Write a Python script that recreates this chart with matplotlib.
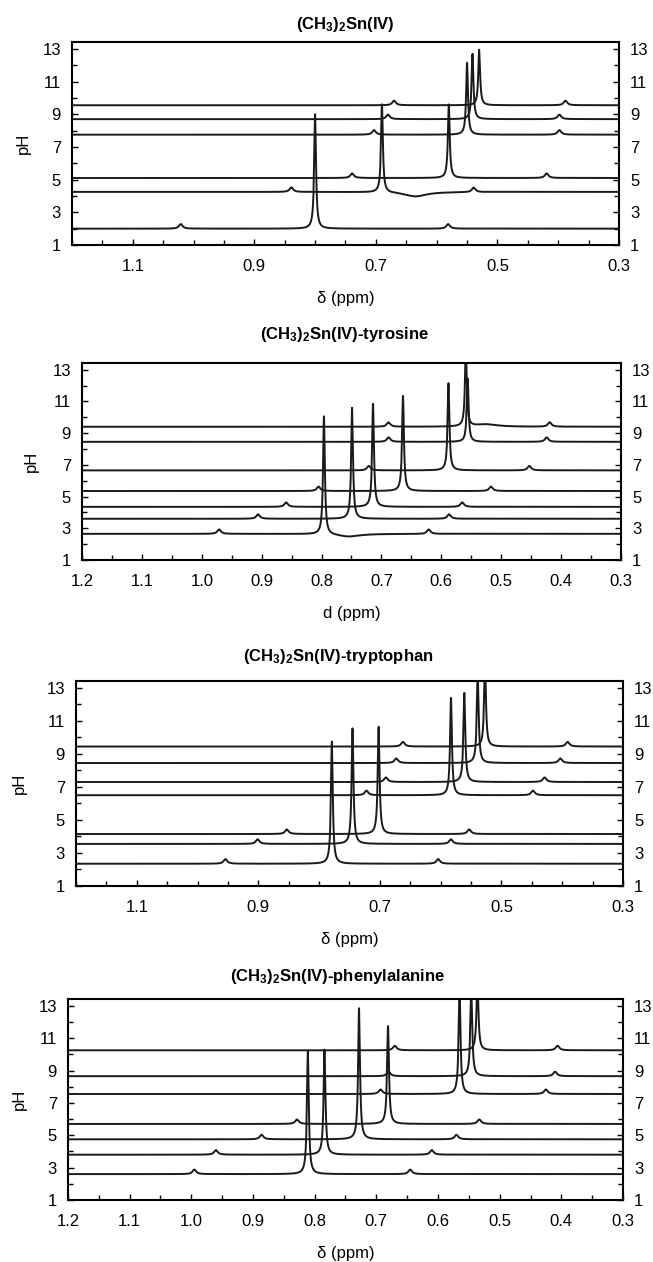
import numpy as np
import matplotlib
matplotlib.use("Agg")
import matplotlib.pyplot as plt
from matplotlib.ticker import FixedLocator, MultipleLocator, FormatStrFormatter

plt.rcParams["font.family"] = ["Liberation Sans", "DejaVu Sans"]
plt.rcParams["mathtext.default"] = "regular"

# --- panel 1: (CH3)2Sn(IV) ---
p1_ph = [2.0, 4.25, 5.1, 7.75, 8.7, 9.55]
p1_main = [0.800, 0.690, 0.580, 0.550, 0.541, 0.530]
p1_height = [7.0, 5.4, 4.5, 4.4, 4.0, 3.4]
p1_sat_left = [1.021, 0.839, 0.739, 0.703, 0.680, 0.670]
p1_sat_right = [0.581, 0.539, 0.419, 0.398, 0.398, 0.388]
# extra baseline features: (trace index, position, height)
p1_extra = [(1, 0.635, -0.28)]

# --- panel 2: tyrosine ---
p2_ph = [2.65, 3.6, 4.35, 5.35, 6.65, 8.45, 9.4]
p2_main = [0.796, 0.749, 0.714, 0.664, 0.588, 0.556, 0.559]
p2_height = [7.45, 7.0, 6.5, 6.0, 5.5, 4.0, 5.0]
p2_sat_left = [0.971, 0.906, 0.859, 0.805, 0.721, 0.688, 0.688]
p2_sat_right = [0.621, 0.587, 0.565, 0.517, 0.453, 0.424, 0.419]
p2_extra = [(0, 0.755, -0.18), (6, 0.525, 0.15)]

# --- panel 3: tryptophan ---
p3_ph = [2.35, 3.55, 4.15, 6.5, 7.3, 8.45, 9.45]
p3_main = [0.779, 0.745, 0.702, 0.583, 0.561, 0.539, 0.527]
p3_height = [7.4, 7.0, 6.5, 5.9, 5.4, 5.5, 5.0]
p3_sat_left = [0.954, 0.901, 0.853, 0.722, 0.690, 0.673, 0.662]
p3_sat_right = [0.604, 0.583, 0.553, 0.448, 0.429, 0.403, 0.391]
p3_extra = []

# --- panel 4: phenylalanine ---
p4_ph = [2.6, 3.8, 4.75, 5.7, 7.55, 8.65, 10.25]
p4_main = [0.811, 0.784, 0.728, 0.681, 0.565, 0.546, 0.536]
p4_height = [7.6, 6.5, 8.1, 6.05, 6.5, 5.5, 4.5]
p4_sat_left = [0.995, 0.960, 0.886, 0.8285, 0.693, 0.680, 0.670]
p4_sat_right = [0.645, 0.610, 0.570, 0.533, 0.425, 0.410, 0.406]
p4_extra = []

sat_height = 0.28

titles = ["(CH$_3$)$_2$Sn(IV)", "(CH$_3$)$_2$Sn(IV)-tyrosine",
          "(CH$_3$)$_2$Sn(IV)-tryptophan", "(CH$_3$)$_2$Sn(IV)-phenylalanine"]
xlabels = ["δ (ppm)", "d (ppm)", "δ (ppm)", "δ (ppm)"]
xticks_sparse = [1.1, 0.9, 0.7, 0.5, 0.3]
xticks_dense = [1.2, 1.1, 1.0, 0.9, 0.8, 0.7, 0.6, 0.5, 0.4, 0.3]
yticks = [1, 3, 5, 7, 9, 11, 13]

panels = [
    (p1_ph, p1_main, p1_height, p1_sat_left, p1_sat_right, p1_extra),
    (p2_ph, p2_main, p2_height, p2_sat_left, p2_sat_right, p2_extra),
    (p3_ph, p3_main, p3_height, p3_sat_left, p3_sat_right, p3_extra),
    (p4_ph, p4_main, p4_height, p4_sat_left, p4_sat_right, p4_extra),
]
panel_xticks = [xticks_sparse, xticks_dense, xticks_sparse, xticks_dense]

# layout in pixels: left, right, top, bottom ; title x, title y ; ylabel x
W, H = 653, 1262
boxes = [(72, 619, 42, 245), (82, 621, 363, 560), (76, 623, 681, 886), (68, 623, 999, 1200)]
title_pos = [(345, 24), (344, 334), (338, 656), (338, 976)]
ylab_x = [23, 31, 19, 19]


def lorentz(x, x0, h, w):
    return h * w ** 2 / ((x - x0) ** 2 + w ** 2)


fig = plt.figure(figsize=(W / 100, H / 100), dpi=100)
x = np.linspace(0.3, 1.2, 30001)

for i, (ph, main, height, sl, sr, extra) in enumerate(panels):
    l, r, t, b = boxes[i]
    ax = fig.add_axes([l / W, 1 - b / H, (r - l) / W, (b - t) / H])
    for k in range(len(ph)):
        y = np.full_like(x, ph[k])
        y += lorentz(x, main[k], height[k], 0.0018)
        y += lorentz(x, sl[k], sat_height, 0.0035)
        y += lorentz(x, sr[k], sat_height, 0.0035)
        for idx, pos, hh in extra:
            if idx == k:
                y += lorentz(x, pos, hh, 0.022)
        ax.plot(x, y, color="#1a1a1a", lw=1.4)

    ax.set_xlim(1.2, 0.3)
    ax.set_ylim(1, 13.42)
    ax.xaxis.set_major_locator(FixedLocator(panel_xticks[i]))
    ax.xaxis.set_minor_locator(MultipleLocator(0.05))
    ax.xaxis.set_major_formatter(FormatStrFormatter("%.1f"))
    ax.yaxis.set_major_locator(FixedLocator(yticks))
    ax.yaxis.set_minor_locator(MultipleLocator(1))
    ax.tick_params(axis="both", which="both", direction="in", labelsize=12,
                   width=1, top=False, right=True, labelright=True)
    ax.tick_params(axis="both", which="major", length=4.5)
    ax.tick_params(axis="both", which="minor", length=3.5)
    ax.tick_params(axis="x", pad=10)
    ax.tick_params(axis="y", pad=8)
    for s in ax.spines.values():
        s.set_linewidth(1.5)
    ax.set_xlabel(xlabels[i], fontsize=12, labelpad=12)

    tx, ty = title_pos[i]
    fig.text(tx / W, 1 - ty / H, titles[i], ha="center", va="center",
             fontsize=12, fontweight="bold")
    fig.text(ylab_x[i] / W, 1 - ((t + b) / 2) / H, "pH", rotation=90,
             ha="center", va="center", fontsize=12)

fig.savefig("out.png", dpi=100)
